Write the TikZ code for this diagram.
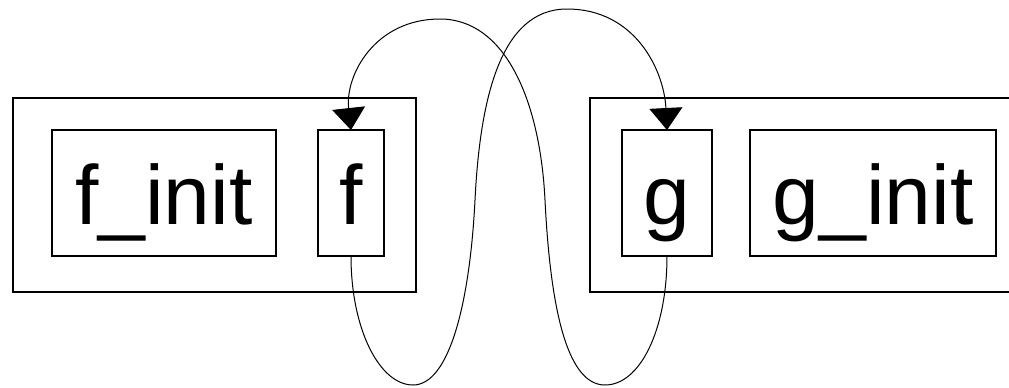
\documentclass[tikz,border=0pt]{standalone}
\usepackage{fontspec}
\setmainfont{Liberation Sans}
\usepackage{tikz}
\usetikzlibrary{arrows.meta, positioning, calc}

\tikzset{
	outerbox/.style={draw, line width=0.75pt, inner sep=0pt, outer sep=0pt, minimum height=97pt},
	partbox/.style={draw, line width=0.75pt, inner sep=0pt, outer sep=0pt, minimum height=63pt, text height=36pt, text depth=5pt, font=\fontsize{42}{50}\selectfont},
	loopline/.style={line width=0.5pt, -{Triangle[length=11pt, width=16.5pt]}}
}

\begin{document}
\begin{tikzpicture}[x=0.5pt, y=-0.5pt]
						\useasboundingbox (0,0) rectangle (1009,387);
						
						% left block
						\node[outerbox, minimum width=201.5pt] (fouter) at (214.5,195) {};
						\node[partbox, minimum width=112pt] (finit) at (164,193) {f\_init};
						\node[partbox, minimum width=33pt] (fbox) at (351,193) {f};
						
						% right block, runs off the page
						\node[outerbox, minimum width=220pt] (gouter) at (810,195) {};
						\node[partbox, minimum width=45pt] (gbox) at (667,193) {g};
						\node[partbox, minimum width=123pt] (ginit) at (873,193) {g\_init};
						
						% loops
						\draw[loopline] (fbox.south) .. controls (351,330) and (380,385) .. (413,385)
							.. controls (450,385) and (470,300) .. (475,200)
							.. controls (480,100) and (500,9) .. (567,9)
							.. controls (635,9) and (664,70) .. (gbox.north);
						\draw[loopline] (gbox.south) .. controls (667,330) and (640,385) .. (605,385)
							.. controls (565,385) and (550,300) .. (545,200)
							.. controls (540,100) and (505,19) .. (440,19)
							.. controls (375,19) and (345,75) .. (fbox.north);
\end{tikzpicture}
\end{document}
